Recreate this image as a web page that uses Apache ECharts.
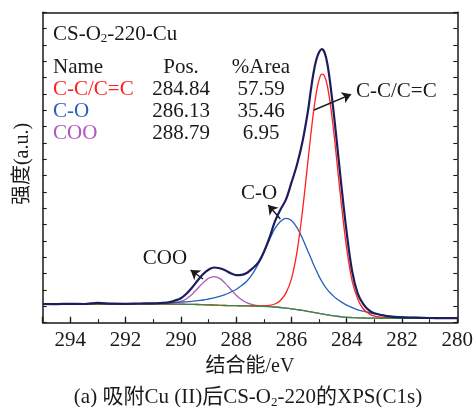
<!DOCTYPE html>
<html>
<head>
<meta charset="utf-8">
<script src="https://cdn.jsdelivr.net/npm/echarts@6/dist/echarts.min.js"></script>
<style>
html, body { margin: 0; padding: 0; background: #fff; }
#chart { width: 476px; height: 407px; }
</style>
</head>
<body>
<div id="chart"></div>
<script>
// Binding energy grid (eV), shared by every curve
const energies = [295, 294.5, 294, 293.5, 293, 292.5, 292, 291.5, 291, 290.5,
  290.2, 290,
  289.8, 289.6, 289.4, 289.2, 289, 288.8, 288.6, 288.4, 288.2, 288, 287.8, 287.6, 287.4, 287.2, 287,
  286.8, 286.6, 286.4, 286.2, 286, 285.8, 285.6, 285.4,
  285.3, 285.2, 285.1, 285, 284.9, 284.8, 284.7, 284.6, 284.5, 284.4,
  284.2, 284, 283.8, 283.6, 283.4, 283.2, 283,
  282.5, 282, 281.5, 281, 280.5, 280];

// Shirley background (a.u.)
const background = [18.7, 18.7, 18.7, 18.7, 18.7, 18.7, 18.7, 18.7, 18.7, 18.7,
  18.6, 18.5,
  18.4, 18.3, 18.2, 18.0, 17.8, 17.6, 17.4, 17.2, 17.1, 17.0, 16.9, 16.8, 16.7, 16.6, 16.4,
  16.1, 15.7, 15.2, 14.6, 13.9, 13.1, 12.3, 11.4,
  10.9, 10.4, 9.9, 9.4, 8.9, 8.4, 7.9, 7.4, 7.0, 6.6,
  5.9, 5.4, 5.1, 4.8, 4.7, 4.6, 4.5,
  4.4, 4.4, 4.4, 4.4, 4.4, 4.4];

// C-C/C=C component
const peakCC = [18.7, 18.7, 18.7, 18.7, 18.7, 18.7, 18.7, 18.7, 18.7, 18.7,
  18.6, 18.5,
  18.4, 18.3, 18.2, 18.0, 17.8, 17.6, 17.4, 17.2, 17.1, 17.0, 16.9, 16.8, 16.7, 16.7, 16.9,
  17.3, 18.7, 22.2, 29.6, 43.9, 70.5, 111.8, 162.3,
  187.7, 210.9, 229.8, 242.8, 248.5, 246.5, 236.7, 220.1, 198.4, 173.2,
  120.1, 74.1, 41.3, 23.8, 13.7, 9.1, 6.5,
  4.9, 4.4, 4.4, 4.4, 4.4, 4.4];

// C-O component
const peakCO = [18.7, 18.7, 18.7, 18.8, 18.8, 18.8, 18.9, 19.1, 19.3, 19.8,
  20.3, 20.6,
  20.9, 21.4, 22.1, 22.7, 23.7, 24.9, 26.4, 28.0, 30.6, 33.2, 37.2, 42.0, 49.1, 58.9, 70.4,
  82.7, 94.0, 101.2, 104.4, 102.1, 95.0, 84.3, 71.3,
  64.9, 58.1, 52.2, 46.3, 41.3, 36.8, 33.1, 29.9, 27.3, 24.6,
  20.8, 17.6, 15.0, 12.9, 11.5, 10.2, 8.8,
  6.9, 5.9, 5.2, 4.9, 4.7, 4.6];

// COO component
const peakCOO = [18.7, 18.7, 18.7, 18.7, 18.7, 18.7, 18.7, 18.7, 18.7, 19.0,
  19.8, 21.3,
  24.0, 28.3, 34.0, 39.8, 44.4, 46.1, 44.3, 39.6, 33.5, 27.5, 22.9, 19.8, 18.0, 17.1, 16.6,
  16.1, 15.7, 15.2, 14.6, 13.9, 13.1, 12.3, 11.4,
  10.9, 10.4, 9.9, 9.4, 8.9, 8.4, 7.9, 7.4, 7.0, 6.6,
  5.9, 5.4, 5.1, 4.8, 4.7, 4.6, 4.5,
  4.4, 4.4, 4.4, 4.4, 4.4, 4.4];

// Measured C1s spectrum
const measured = [18.7, 18.6, 18.9, 18.7, 19.8, 19.0, 18.9, 19.2, 19.4, 20.0,
  22.3, 24.5,
  29, 35, 42, 48.5, 53, 55.2, 54.5, 52.5, 49.5, 47.5, 47.8, 50, 54.5, 60, 70.5,
  84.5, 101, 113, 123, 140, 158, 181, 212,
  232, 250, 263, 270.5, 273.5, 270, 259, 240, 217, 192,
  139, 90, 51, 29, 18.5, 12.5, 9.5,
  6.3, 5.3, 5.0, 4.7, 4.6, 4.5];

// Fit table
const fitNames = ['C-C/C=C', 'C-O', 'COO'];
const fitPos = ['284.84', '286.13', '288.79'];
const fitArea = ['57.59', '35.46', '6.95'];

const SERIF = '"Liberation Serif", "Times New Roman", serif';
const MIXED = '"Liberation Serif", "Noto Sans CJK SC", serif';
const COLORS = {
  measured: '#1d1d5c',
  cc: '#ff2020',
  co: '#2561bd',
  coo: '#ad58bb',
  bg: '#3a8a3c',
  ink: '#1a1a1a'
};
const fitColors = [COLORS.cc, COLORS.co, COLORS.coo];

const yMax = 310.4;
const pair = arr => energies.map((e, i) => [e, arr[i]]);

const chart = echarts.init(document.getElementById('chart'), null, { renderer: 'canvas' });

function lineSeries(name, arr, color, width, z) {
  return {
    name: name,
    type: 'line',
    data: pair(arr),
    showSymbol: false,
    smooth: 0.35,
    z: z,
    lineStyle: { color: color, width: width },
    itemStyle: { color: color },
    silent: true
  };
}

// Callout arrows [tail, head] in (eV, a.u.)
const callouts = [
  [[285.18, 212.7], [283.84, 228.4]],
  [[286.40, 103.7], [286.84, 117.7]],
  [[289.20, 43.7], [289.65, 52.7]]
];

const measuredSeries = lineSeries('measured', measured, COLORS.measured, 2.2, 10);
measuredSeries.markLine = {
  silent: true,
  symbol: ['none', 'arrow'],
  symbolSize: 9,
  animation: false,
  label: { show: false },
  lineStyle: { color: COLORS.ink, width: 1.4, type: 'solid' },
  data: callouts.map(c => [{ coord: c[0] }, { coord: c[1] }])
};

const FS = 21;
const texts = [];
function addText(x, y, text, opts) {
  texts.push(Object.assign({
    type: 'text', x: x, y: y, silent: true,
    style: Object.assign({
      text: text, fill: COLORS.ink, fontFamily: SERIF, fontSize: FS,
      textAlign: 'left', textVerticalAlign: 'middle'
    }, opts || {})
  }));
}

// Sample name with subscript
texts.push({
  type: 'text', x: 53, y: 34, silent: true,
  style: {
    text: '{a|CS-O}{s|2}{a|-220-Cu}',
    textAlign: 'left', textVerticalAlign: 'middle',
    rich: {
      a: { fontFamily: SERIF, fontSize: FS, fill: COLORS.ink, lineHeight: 22, verticalAlign: 'middle' },
      s: { fontFamily: SERIF, fontSize: 13, fill: COLORS.ink, lineHeight: 8, verticalAlign: 'bottom' }
    }
  }
});

addText(53, 67, 'Name');
addText(181, 67, 'Pos.', { textAlign: 'center' });
addText(261, 67, '%Area', { textAlign: 'center' });
fitNames.forEach((n, i) => {
  const y = 89.5 + i * 22;
  addText(53, y, n, { fill: fitColors[i] });
  addText(181, y, fitPos[i], { textAlign: 'center' });
  addText(261, y, fitArea[i], { textAlign: 'center' });
});

// Callout labels
addText(356, 91, 'C-C/C=C');
addText(259, 193, 'C-O', { textAlign: 'center' });
addText(165, 258.5, 'COO', { textAlign: 'center' });

// Axis titles and caption
addText(250, 367, '结合能/eV', { textAlign: 'center', fontFamily: MIXED, fontSize: 20 });
texts.push({
  type: 'text', x: 23, y: 164, rotation: Math.PI / 2, silent: true,
  style: {
    text: '强度(a.u.)', fill: COLORS.ink, fontFamily: MIXED, fontSize: 20,
    textAlign: 'center', textVerticalAlign: 'middle'
  }
});
texts.push({
  type: 'text', x: 248, y: 397, silent: true,
  style: {
    text: '{a|(a) 吸附Cu (II)后CS-O}{s|2}{a|-220的XPS(C1s)}',
    textAlign: 'center', textVerticalAlign: 'middle',
    rich: {
      a: { fontFamily: MIXED, fontSize: 21, fill: COLORS.ink, lineHeight: 24, verticalAlign: 'middle' },
      s: { fontFamily: SERIF, fontSize: 13, fill: COLORS.ink, lineHeight: 8, verticalAlign: 'bottom' }
    }
  }
});

const axisLine = { show: true, onZero: false, lineStyle: { color: COLORS.ink, width: 1.5 } };

chart.setOption({
  animation: false,
  backgroundColor: '#fff',
  grid: { left: 42.7, right: 16, top: 12.3, bottom: 84.3, containLabel: false },
  xAxis: [
    {
      type: 'value', min: 280, max: 295, interval: 2, inverse: true, position: 'bottom',
      axisLine: axisLine,
      axisTick: { show: true, inside: true, length: 6, lineStyle: { color: COLORS.ink, width: 1.3 } },
      axisLabel: {
        color: COLORS.ink, fontFamily: SERIF, fontSize: 21, margin: 7,
        formatter: v => (v % 2 === 0 ? String(v) : '')
      },
      splitLine: { show: false }
    },
    {
      type: 'value', min: 280, max: 295, interval: 1, inverse: true, position: 'bottom',
      axisLine: { show: false },
      axisTick: { show: true, inside: true, length: 3.5, lineStyle: { color: COLORS.ink, width: 1.1 } },
      axisLabel: { show: false },
      splitLine: { show: false }
    },
    {
      type: 'value', min: 280, max: 295, inverse: true, position: 'top',
      axisLine: axisLine,
      axisTick: { show: false },
      axisLabel: { show: false },
      splitLine: { show: false }
    }
  ],
  yAxis: [
    {
      type: 'value', min: 0, max: yMax, interval: yMax / 19, position: 'left',
      axisLine: axisLine,
      axisTick: { show: true, inside: true, length: 4, lineStyle: { color: COLORS.ink, width: 1.1 } },
      axisLabel: { show: false },
      splitLine: { show: false }
    },
    {
      type: 'value', min: 0, max: yMax, interval: yMax / 19, position: 'right',
      axisLine: axisLine,
      axisTick: { show: true, inside: true, length: 4, lineStyle: { color: COLORS.ink, width: 1.1 } },
      axisLabel: { show: false },
      splitLine: { show: false }
    }
  ],
  series: [
    lineSeries('COO', peakCOO, COLORS.coo, 1.3, 2),
    lineSeries('C-O', peakCO, COLORS.co, 1.3, 3),
    lineSeries('C-C/C=C', peakCC, COLORS.cc, 1.3, 4),
    lineSeries('background', background, COLORS.bg, 1.3, 5),
    measuredSeries
  ],
  graphic: texts
});
</script>
</body>
</html>
